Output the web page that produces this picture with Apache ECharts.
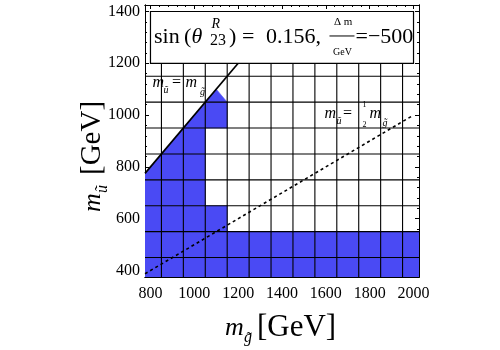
<!DOCTYPE html>
<html>
<head>
<meta charset="utf-8">
<script src="https://cdn.jsdelivr.net/npm/echarts@6/dist/echarts.min.js"></script>
<style>
  html, body { margin: 0; padding: 0; background: #ffffff; }
  #chart { width: 500px; height: 350px; }
</style>
</head>
<body>
<div id="chart"></div>
<script>
// Scan points: gluino mass (columns) and squark mass (rows), GeV
const gluinoMass = [800, 900, 1000, 1100, 1200, 1300, 1400, 1500, 1600, 1700, 1800, 1900, 2000];
const squarkMass = [400, 500, 600, 700, 800, 900, 1000, 1100, 1200];
// Allowed points: 1 = whole cell allowed, 0.5 = allowed below the cell centre only, 0 = excluded
const allowed = [
  [1, 1, 1, 1, 1, 1, 1, 1, 1, 1, 1, 1, 1],   // 400
  [1, 1, 1, 1, 1, 1, 1, 1, 1, 1, 1, 1, 1],   // 500
  [1, 1, 1, 1, 0, 0, 0, 0, 0, 0, 0, 0, 0],   // 600
  [1, 1, 1, 0, 0, 0, 0, 0, 0, 0, 0, 0, 0],   // 700
  [1, 1, 1, 0, 0, 0, 0, 0, 0, 0, 0, 0, 0],   // 800
  [0, 1, 1, 0, 0, 0, 0, 0, 0, 0, 0, 0, 0],   // 900
  [0, 0, 1, 1, 0, 0, 0, 0, 0, 0, 0, 0, 0],   // 1000
  [0, 0, 0, 0.5, 0, 0, 0, 0, 0, 0, 0, 0, 0], // 1100
  [0, 0, 0, 0, 0, 0, 0, 0, 0, 0, 0, 0, 0]    // 1200
];
// Plot range
const gluinoRange = [775, 2025];
const squarkRange = [375, 1425];
// Tick labels
const gluinoTicks = [800, 1000, 1200, 1400, 1600, 1800, 2000];
const squarkTicks = [400, 600, 800, 1000, 1200, 1400];
// Reference lines m_ũ = m_g̃ and m_ũ = m_g̃ / 2
const equalMassLine = [[775, 775], [1200, 1200]];
const halfMassLine = [[775, 387.5], [2000, 1000]];
// Parameter box (corners in GeV)
const infoBox = [[800, 1400, 2000, 1200]];
// Line label anchors (GeV)
const equalMassLabel = [[800, 1100]];
const halfMassLabel = [[2000, 1000]];

const SERIF = "'Liberation Serif', 'DejaVu Serif', serif";
const BLUE = '#4a4af4';

function minorTicks(major, n) {
  const out = [];
  for (let i = 0; i < major.length - 1; i++) {
    const step = (major[i + 1] - major[i]) / n;
    for (let k = 1; k < n; k++) out.push(major[i] + k * step);
  }
  return out;
}

// Clip a polygon to the half-plane a*x + b*y + c >= 0
function clipHalf(poly, a, b, c) {
  const out = [];
  const f = p => a * p[0] + b * p[1] + c;
  for (let i = 0; i < poly.length; i++) {
    const p = poly[i], q = poly[(i + 1) % poly.length];
    const fp = f(p), fq = f(q);
    if (fp >= 0) out.push(p);
    if ((fp >= 0) !== (fq >= 0)) {
      const t = fp / (fp - fq);
      out.push([p[0] + t * (q[0] - p[0]), p[1] + t * (q[1] - p[1])]);
    }
  }
  return out;
}

const cellData = [];
squarkMass.forEach((my, i) => {
  gluinoMass.forEach((mg, j) => {
    if (allowed[i][j] > 0) cellData.push([mg, my, allowed[i][j]]);
  });
});
const cellW = gluinoMass[1] - gluinoMass[0];
const cellH = squarkMass[1] - squarkMass[0];

// Cell borders: vertical ones stop at the bottom of the parameter box
const meshData = [];
for (let j = 0; j < gluinoMass.length - 1; j++) {
  const x = (gluinoMass[j] + gluinoMass[j + 1]) / 2;
  meshData.push([x, squarkRange[0], x, infoBox[0][3]]);
}
for (let i = 0; i < squarkMass.length - 1; i++) {
  const y = (squarkMass[i] + squarkMass[i + 1]) / 2;
  meshData.push([gluinoRange[0], y, gluinoRange[1], y]);
}

// Text piece placed by its baseline
function txt(s, x, base, size, italic) {
  return {
    type: 'text',
    x: x, y: base - 0.31 * size,
    style: {
      text: s, fill: '#000', align: 'left', verticalAlign: 'middle',
      font: (italic ? 'italic ' : '') + size + 'px ' + SERIF
    }
  };
}

function axisPair(dim, pos, minVal, maxVal, major, labels) {
  const base = {
    type: 'value', min: minVal, max: maxVal, position: pos,
    axisLine: { show: true, onZero: false, lineStyle: { color: '#000', width: 1 } },
    splitLine: { show: false }
  };
  const main = Object.assign({}, base, {
    axisTick: { show: true, inside: true, length: 4, customValues: major, lineStyle: { color: '#000', width: 1 } },
    axisLabel: labels ? {
      show: true, customValues: major, color: '#000',
      fontFamily: SERIF, fontSize: 16, margin: dim === 'x' ? 9 : 5,
      formatter: v => String(v)
    } : { show: false }
  });
  const minor = Object.assign({}, base, {
    axisTick: { show: true, inside: true, length: 2, customValues: minorTicks(major, 5), lineStyle: { color: '#000', width: 1 } },
    axisLabel: { show: false }
  });
  return [main, minor];
}

const chart = echarts.init(document.getElementById('chart'), null, { renderer: 'canvas' });

const option = {
  animation: false,
  backgroundColor: '#ffffff',
  grid: { left: 145, right: 81, top: 5, bottom: 73, containLabel: false },
  xAxis: [].concat(
    axisPair('x', 'bottom', gluinoRange[0], gluinoRange[1], gluinoTicks, true),
    axisPair('x', 'top', gluinoRange[0], gluinoRange[1], gluinoTicks, false)
  ),
  yAxis: [].concat(
    axisPair('y', 'left', squarkRange[0], squarkRange[1], squarkTicks, true),
    axisPair('y', 'right', squarkRange[0], squarkRange[1], squarkTicks, false)
  ),
  series: [
    {
      name: 'allowed',
      type: 'custom',
      data: cellData,
      encode: { x: 0, y: 1 },
      clip: true,
      z: 1,
      renderItem: function (params, api) {
        const gx = api.value(0), gy = api.value(1), f = api.value(2);
        let poly;
        if (f >= 1) {
          poly = [[gx - cellW / 2, gy - cellH / 2], [gx + cellW / 2, gy - cellH / 2],
                  [gx + cellW / 2, gy + cellH / 2], [gx - cellW / 2, gy + cellH / 2]];
        } else {
          poly = [[gx - cellW / 2, gy - cellH / 2], [gx + cellW / 2, gy - cellH / 2], [gx, gy]];
        }
        poly = clipHalf(poly, 1, -1, 0);                 // m_ũ <= m_g̃
        poly = clipHalf(poly, 1, 0, -gluinoRange[0]);
        poly = clipHalf(poly, -1, 0, gluinoRange[1]);
        poly = clipHalf(poly, 0, 1, -squarkRange[0]);
        poly = clipHalf(poly, 0, -1, squarkRange[1]);
        if (poly.length < 3) return null;
        return {
          type: 'polygon',
          shape: { points: poly.map(p => api.coord(p)) },
          style: { fill: BLUE, stroke: BLUE, lineWidth: 0.6 }
        };
      }
    },
    {
      name: 'mesh',
      type: 'custom',
      data: meshData,
      encode: { x: [0, 2], y: [1, 3] },
      clip: true,
      z: 2,
      renderItem: function (params, api) {
        const a = api.coord([api.value(0), api.value(1)]);
        const b = api.coord([api.value(2), api.value(3)]);
        return {
          type: 'line',
          shape: { x1: a[0], y1: a[1], x2: b[0], y2: b[1] },
          style: { stroke: '#000', lineWidth: 1.1 }
        };
      }
    },
    {
      name: 'equal mass',
      type: 'line',
      data: equalMassLine,
      symbol: 'none',
      clip: true,
      z: 3,
      lineStyle: { color: '#000', width: 1.7 }
    },
    {
      name: 'half mass',
      type: 'line',
      data: halfMassLine,
      symbol: 'none',
      clip: true,
      z: 3,
      lineStyle: { color: '#000', width: 1.6, type: [3, 3] }
    },
    {
      name: 'parameters',
      type: 'custom',
      data: infoBox,
      encode: { x: [0, 2], y: [1, 3] },
      z: 5,
      renderItem: function (params, api) {
        const p0 = api.coord([api.value(0), api.value(1)]);
        const p1 = api.coord([api.value(2), api.value(3)]);
        const x0 = p0[0], y0 = p0[1];
        const b = y0 + 32.5;
        return {
          type: 'group',
          children: [
            { type: 'rect', shape: { x: x0, y: y0, width: p1[0] - x0, height: p1[1] - y0 },
              style: { fill: '#fff', stroke: '#000', lineWidth: 1.2 } },
            txt('sin', x0 + 3.5, b, 22, false),
            txt('(', x0 + 33.5, b, 22, false),
            txt('\u03b8', x0 + 41, b, 22, true),
            txt('R', x0 + 61, y0 + 17.5, 14, true),
            txt('23', x0 + 59.5, y0 + 34.5, 16, false),
            txt(')', x0 + 78.5, b, 22, false),
            txt('=', x0 + 91.5, b, 22, false),
            txt('0.156,', x0 + 115.5, b, 22, false),
            txt('\u0394 m', x0 + 183.5, y0 + 14.5, 11, false),
            { type: 'line', shape: { x1: x0 + 179, y1: y0 + 24.5, x2: x0 + 204, y2: y0 + 24.5 },
              style: { stroke: '#000', lineWidth: 1 } },
            txt('GeV', x0 + 182.5, y0 + 44, 10, false),
            txt('=\u2212500', x0 + 205, b, 22, false)
          ]
        };
      }
    },
    {
      name: 'equal mass label',
      type: 'custom',
      data: equalMassLabel,
      encode: { x: 0, y: 1 },
      z: 6,
      renderItem: function (params, api) {
        const p = api.coord([api.value(0), api.value(1)]);
        const x = p[0], y = p[1];
        return {
          type: 'group',
          children: [
            txt('m', x + 2, y - 1.5, 16, true),
            txt('\u0169', x + 13, y + 4, 10, true),
            txt('=', x + 21.5, y - 1.5, 16, false),
            txt('m', x + 35, y - 1.5, 16, true),
            txt('g\u0303', x + 49.5, y + 6.5, 10, true)
          ]
        };
      }
    },
    {
      name: 'half mass label',
      type: 'custom',
      data: halfMassLabel,
      encode: { x: 0, y: 1 },
      z: 6,
      renderItem: function (params, api) {
        const p = api.coord([api.value(0), api.value(1)]);
        const x = p[0], y = p[1];
        return {
          type: 'group',
          children: [
            txt('m', x - 89, y + 4, 16, true),
            txt('\u0169', x - 77, y + 9, 10, true),
            txt('=', x - 70.5, y + 4, 16, false),
            txt('1', x - 51, y - 8, 8, false),
            txt('2', x - 51, y + 12.5, 8, false),
            txt('m', x - 44, y + 4, 16, true),
            txt('g\u0303', x - 31, y + 11.5, 10, true)
          ]
        };
      }
    }
  ],
  graphic: [
    // horizontal axis title
    {
      type: 'group', x: 0, y: 0, silent: true,
      children: [
        txt('m', 225, 336, 26, true),
        txt('g\u0303', 244, 343, 16, true),
        txt('[GeV]', 257, 337, 31, false)
      ]
    },
    // vertical axis title, reading bottom to top
    {
      type: 'group', x: 101, y: 212, rotation: Math.PI / 2, silent: true,
      children: [
        txt('m', 0, 0, 26, true),
        txt('\u0169', 19, 7, 16, true),
        txt('[GeV]', 37, 0, 29, false)
      ]
    }
  ]
};

chart.setOption(option);
</script>
</body>
</html>
